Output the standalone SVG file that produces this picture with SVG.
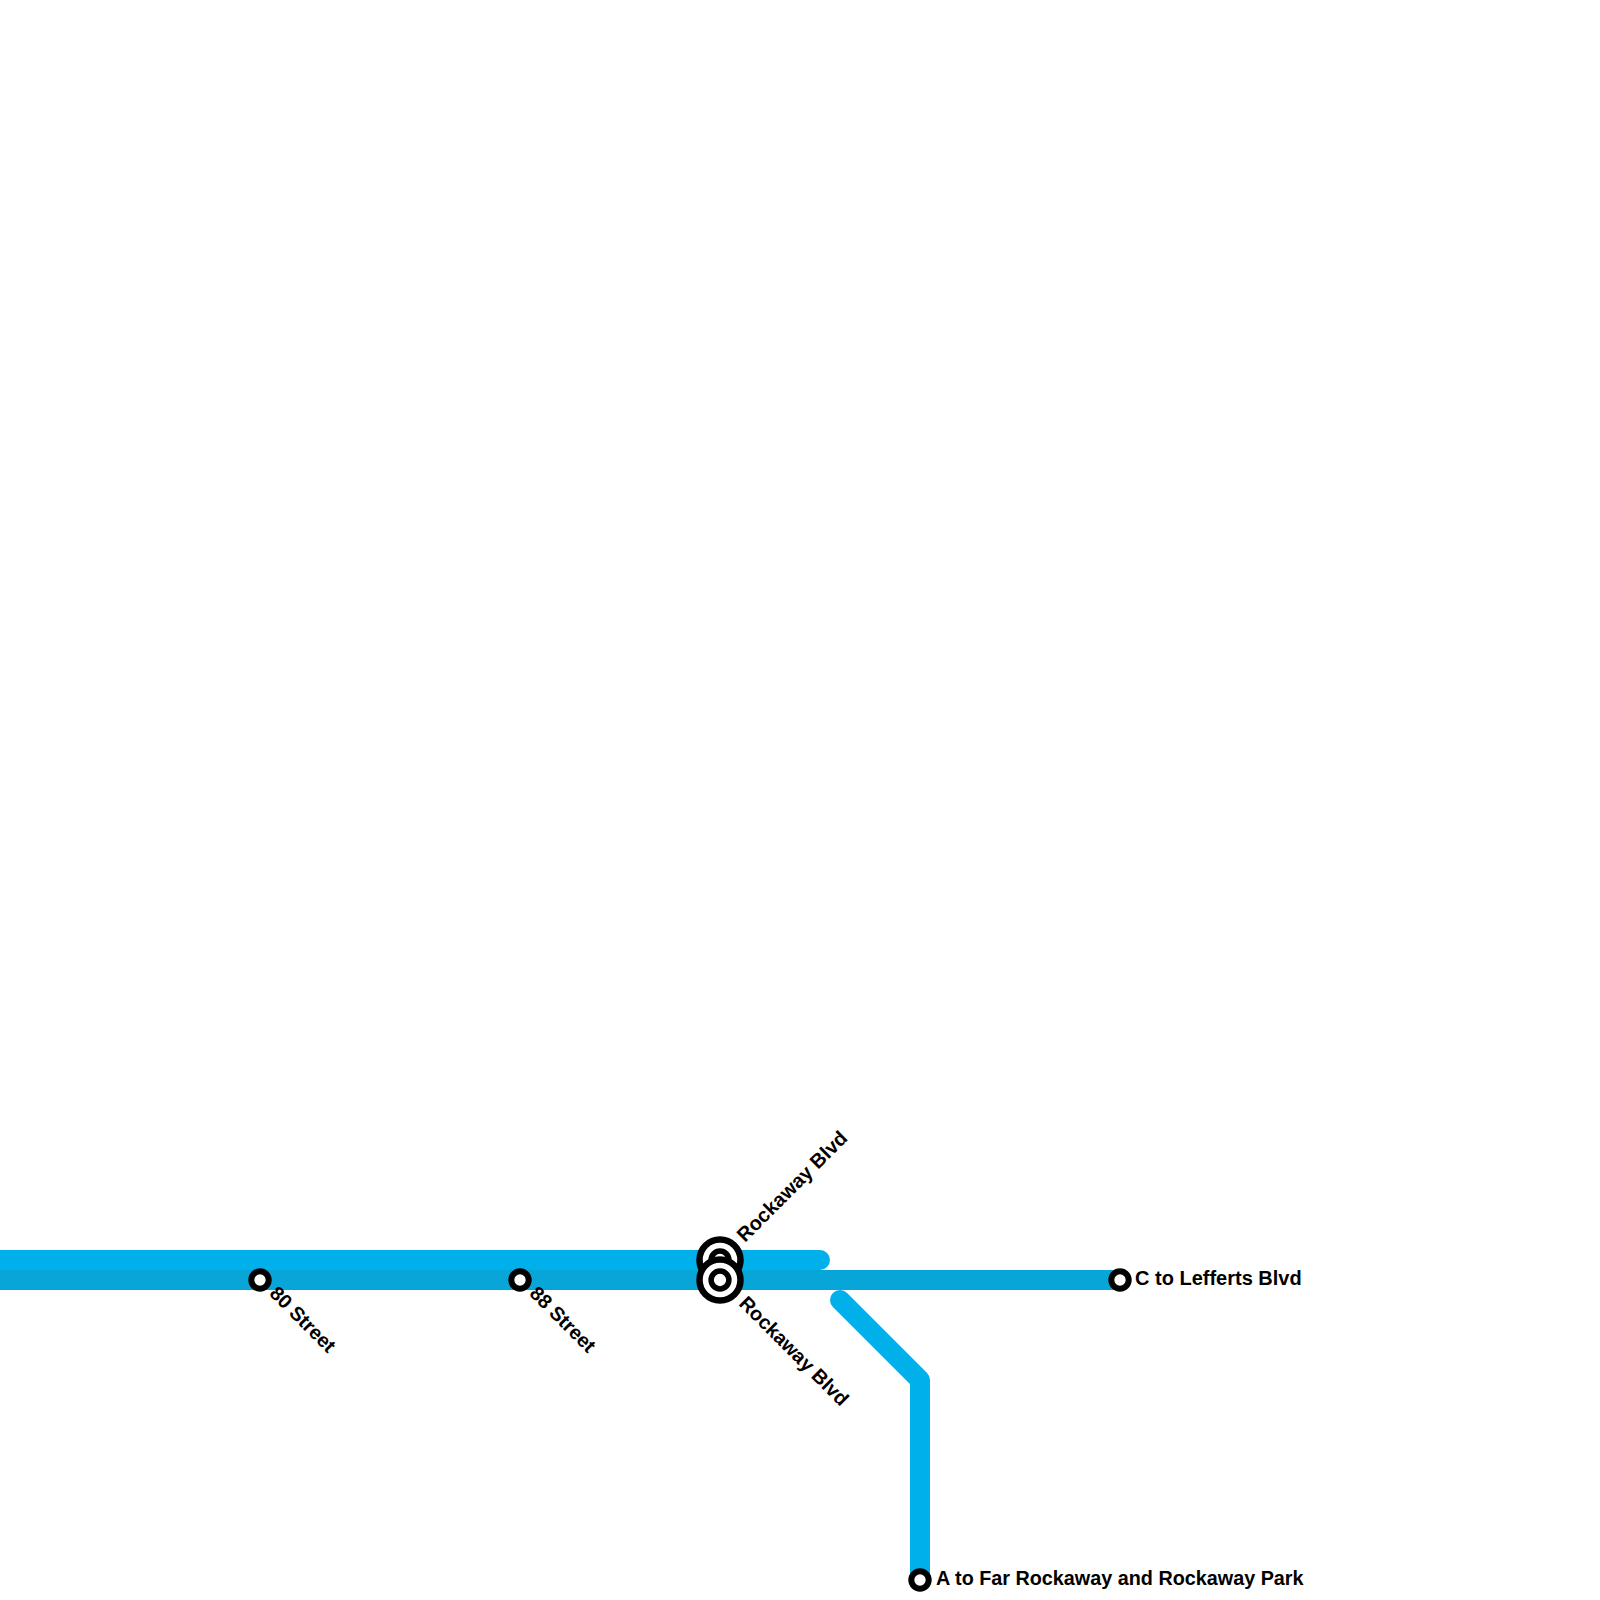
<svg xmlns="http://www.w3.org/2000/svg" width="1600" height="1600" viewBox="0 0 1600 1600">
<style>
.line{fill:none;stroke-width:20;stroke-linecap:round;stroke-linejoin:round}
.a{stroke:#00b0ea}
.c{stroke:#08a5d8}
.ring{fill:#fff;stroke:#000;stroke-width:6}
.inner{fill:#fff;stroke:#000;stroke-width:5.5}
.outer{fill:#fff;stroke:#000;stroke-width:6.5}
text{font-family:"Liberation Sans",Arial,sans-serif;font-weight:bold;font-size:19.8px;fill:#000}
</style>
<rect width="1600" height="1600" fill="#fff"/>
<g id="connectors">
<path class="line a" d="M-20 1260H820"/>
<path class="line c" d="M-20 1280H1120"/>
<path class="line a" d="M840 1300L920 1380V1580"/>
</g>
<g id="station-80"><circle class="ring" cx="260" cy="1280" r="8.7"/><text transform="translate(268.5 1294.5) rotate(45)">80 Street</text></g>
<g id="station-88"><circle class="ring" cx="520" cy="1280" r="8.7"/><text transform="translate(528.5 1294.5) rotate(45)">88 Street</text></g>
<g id="station-rockaway-a"><circle class="outer" cx="720" cy="1260" r="20.5"/><circle class="inner" cx="720" cy="1260" r="8.9"/><text transform="translate(745 1243) rotate(-45)" style="font-size:20px">Rockaway Blvd</text></g>
<g id="station-rockaway-c"><circle class="outer" cx="720" cy="1280" r="20.5"/><circle class="inner" cx="720" cy="1280" r="8.9"/><text transform="translate(738 1304.5) rotate(45)">Rockaway Blvd</text></g>
<g id="station-lefferts"><circle class="ring" cx="1120" cy="1280" r="8.7"/><text x="1135" y="1284.5" style="font-size:20px">C to Lefferts Blvd</text></g>
<g id="station-far-rockaway"><circle class="ring" cx="920" cy="1580" r="8.7"/><text x="936" y="1585">A to Far Rockaway and Rockaway Park</text></g>
</svg>
